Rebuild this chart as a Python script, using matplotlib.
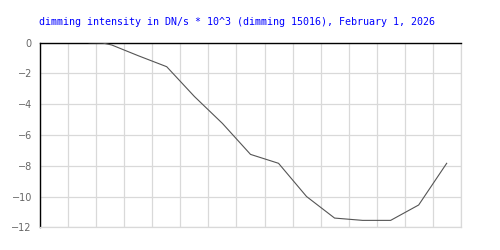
import matplotlib
matplotlib.use("Agg")
import matplotlib.pyplot as plt

title = "dimming intensity in DN/s * 10^3 (dimming 15016), February 1, 2026"
x_vals = [1.74, 2.23, 2.55, 3.5, 4.51, 5.5, 6.5, 7.5, 8.5, 9.5, 10.5, 11.5, 12.5, 13.5, 14.5]
y_vals = [0.0, -0.02, -0.15, -0.85, -1.56, -3.5, -5.25, -7.26, -7.84, -10.0, -11.4, -11.55, -11.55, -10.55, -7.84]
y_ticks = [0, -2, -4, -6, -8, -10, -12]
x_grid = list(range(0, 16))

fig = plt.figure(figsize=(5, 2.5), dpi=100)
ax = fig.add_axes([0.0806, 0.0908, 0.8408, 0.7384])
ax.plot(x_vals, y_vals, color="#555555", lw=0.8, zorder=3)
ax.set_xlim(0, 15)
ax.set_ylim(-12, 0)
ax.set_xticks(x_grid)
ax.set_xticklabels([])
ax.set_yticks(y_ticks)
ax.set_yticklabels([str(t).replace("-", "\u2212") for t in y_ticks])
ax.tick_params(axis="both", length=0)
ax.tick_params(axis="y", pad=6, labelsize=7, labelcolor="#666666")
ax.grid(True, color="#d9d9d9", lw=0.9)
ax.set_axisbelow(True)
for s in ["left", "top"]:
    ax.spines[s].set_color("black")
    ax.spines[s].set_linewidth(1.0)
for s in ["right", "bottom"]:
    ax.spines[s].set_color("#d9d9d9")
    ax.spines[s].set_linewidth(0.9)
fig.text(0.474, 0.911, title, color="#0000ff", fontsize=7.2,
         family="DejaVu Sans Mono", ha="center", va="center")
fig.savefig("out.png", dpi=100)
